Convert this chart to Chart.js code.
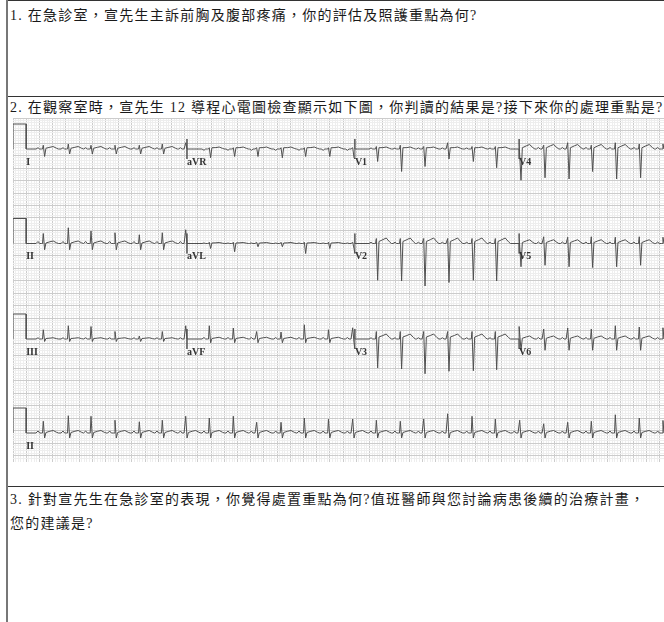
<!DOCTYPE html>
<html>
<head>
<meta charset="utf-8">
<script src="https://cdn.jsdelivr.net/npm/chart.js@4.4.1/dist/chart.umd.min.js"></script>
<style>
  html, body { margin: 0; padding: 0; background: #fff; overflow: hidden; }
  body { width: 664px; height: 622px; position: relative; color: #1a1a1a;
         font-family: "Liberation Serif", "Noto Sans CJK TC", serif; }
  .vline { position: absolute; left: 6px; top: 0; width: 2px; height: 622px; background: #777; }
  .hline { position: absolute; left: 6px; width: 700px; height: 1px; background: #333; }
  .q { position: absolute; left: 10px; font-size: 14px; letter-spacing: 1.25px; line-height: 24px; white-space: nowrap; }
  #ecgBox { position: absolute; left: 13px; top: 118px; width: 651px; height: 344px; }
</style>
</head>
<body>
<div class="hline" style="top:0"></div>
<div class="hline" style="top:96px"></div>
<div class="hline" style="top:486px"></div>
<div class="vline"></div>
<div class="q" style="top:4px">1. 在急診室，宣先生主訴前胸及腹部疼痛，你的評估及照護重點為何?</div>
<div class="q" style="top:96px">2. 在觀察室時，宣先生 12 導程心電圖檢查顯示如下圖，你判讀的結果是?接下來你的處理重點是?</div>
<div class="q" style="top:488px">3. 針對宣先生在急診室的表現，你覺得處置重點為何?值班醫師與您討論病患後續的治療計畫，<br>您的建議是?</div>
<div id="ecgBox"><canvas id="ecg" width="651" height="344"></canvas></div>

<script>
// ---- data (time in s, amplitude in mV) ----
const beatTimes = [0.459, 0.838, 1.182, 1.545, 1.914, 2.262, 2.617,
                   2.974, 3.338, 3.692, 4.061, 4.414, 4.780, 5.147,
                   5.505, 5.868, 6.223, 6.586, 6.955, 7.308,
                   7.677, 8.041, 8.405, 8.762, 9.126, 9.489, 9.848];
const sectionStarts = [0.2, 2.636, 5.18, 7.667];
const sectionBeats  = [[0, 7], [7, 14], [14, 20], [20, 27]];
const calTimes  = [0, 0, 0.2, 0.2];
const calLevels = [0, 1, 1, 0];
const markerLevels = [0, 0.4, -0.4, 0];

const rowLeads = [['I', 'aVR', 'V1', 'V4'],
                  ['II', 'aVL', 'V2', 'V5'],
                  ['III', 'aVF', 'V3', 'V6']];
const rhythmLead = 'II';

// R and S amplitude per beat
const I_R   = [0.15, 0.2, 0.15, 0.15, 0.15, 0.2, 0.25];
const I_S   = [-0.3, -0.2, -0.2, -0.2, -0.2, -0.2, -0.2];
const aVR_R = [0.05, 0.05, 0.05, 0.05, 0.05, 0.05, 0.05];
const aVR_S = [-0.35, -0.3, -0.3, -0.35, -0.3, -0.3, -0.35];
const V1_R  = [0.1, 0.15, 0.1, 0.25, 0.1, 0.1];
const V1_S  = [-0.5, -0.9, -0.7, -0.4, -0.5, -0.75];
const V4_R  = [0.2, 0.15, 0.25, 0.15, 0.25, 0.2, 0.2];
const V4_S  = [-1.25, -1.15, -1.2, -0.9, -1.2, -1.15, -1.1];
const II_R  = [0.4, 0.63, 0.5, 0.43, 0.35, 0.43, 0.55];
const II_S  = [-0.25, -0.25, -0.25, -0.25, -0.25, -0.25, -0.25];
const aVL_R = [0.05, 0.05, 0.05, 0.05, 0.05, 0.05, 0.05];
const aVL_S = [-0.2, -0.33, -0.13, -0.13, -0.4, -0.2, -0.2];
const V2_R  = [0.2, 0.2, 0.2, 0.2, 0.2, 0.2];
const V2_S  = [-1.47, -1.5, -1.7, -1.56, -1.47, -1.5];
const V5_R  = [0.25, 0.27, 0.25, 0.27, 0.25, 0.27, 0.25];
const V5_S  = [-0.93, -0.87, -0.93, -0.96, -0.93, -0.87, -0.9];
const III_R = [0.37, 0.53, 0.5, 0.3, 0.12, 0.3, 0.53];
const III_S = [-0.1, -0.1, -0.1, -0.1, -0.1, -0.1, -0.1];
const aVF_R = [0.53, 0.44, 0.3, 0.28, 0.57, 0.37, 0.45];
const aVF_S = [-0.15, -0.15, -0.15, -0.15, -0.15, -0.15, -0.15];
const V3_R  = [0.3, 0.3, 0.3, 0.3, 0.3, 0.3];
const V3_S  = [-1.16, -1.2, -1.39, -1.29, -1.27, -1.23];
const V6_R  = [0.5, 0.4, 0.44, 0.4, 0.53, 0.48, 0.45];
const V6_S  = [-0.45, -0.45, -0.45, -0.45, -0.45, -0.45, -0.45];
const IIr_R = [0.47, 0.69, 0.67, 0.51, 0.45, 0.51, 0.67, 0.6, 0.67, 0.43, 0.43, 0.6, 0.55,
               0.56, 0.51, 0.47, 0.56, 0.77, 0.67, 0.56, 0.51, 0.37, 0.43, 0.47, 0.73, 0.6, 0.5];
const IIr_S = [-0.2, -0.2, -0.2, -0.2, -0.2, -0.2, -0.2, -0.2, -0.2, -0.2, -0.2, -0.2, -0.2,
               -0.2, -0.2, -0.2, -0.2, -0.2, -0.2, -0.2, -0.2, -0.2, -0.2, -0.2, -0.2, -0.2, -0.2];

// P, Q, ST (J) and T level per lead
const shapes = {
  I: [0.05, 0, 0.03, 0.1],   aVR: [-0.05, 0, 0.05, 0.08], V1: [0.04, 0, 0.05, 0.08], V4: [0.06, 0, 0.05, 0.18],
  II: [0.08, 0, 0.02, 0.1],  aVL: [0.02, 0, 0.02, 0.04],  V2: [0.05, 0, 0.08, 0.22], V5: [0.06, 0, 0.04, 0.15],
  III: [0.05, 0, 0.02, 0.05], aVF: [0.06, 0, 0.02, 0.07], V3: [0.05, 0, 0.08, 0.2],  V6: [0.06, 0, 0.03, 0.12],
};
const amps = {
  I: [I_R, I_S], aVR: [aVR_R, aVR_S], V1: [V1_R, V1_S], V4: [V4_R, V4_S],
  II: [II_R, II_S], aVL: [aVL_R, aVL_S], V2: [V2_R, V2_S], V5: [V5_R, V5_S],
  III: [III_R, III_S], aVF: [aVF_R, aVF_S], V3: [V3_R, V3_S], V6: [V6_R, V6_S],
};

// ---- paper layout ----
const X_MAX = 651 / 66;          // 66 px per second
const Y_MIN = -344 / 25;         // 25 px per mV
const rowBase = [-1.24, -5.02, -8.84, -12.6];

function beatPoints(times, R, S, shape, t0, t1) {
  const [P, Q, J, T] = shape;
  const pts = [{ x: t0, y: 0 }];
  times.forEach((tb, i) => {
    const beat = [[-0.11, 0], [-0.08, P], [-0.055, 0], [-0.025, 0], [-0.012, Q],
                  [0, R[i]], [0.02, S[i]], [0.04, J], [0.1, T * 0.7], [0.15, T],
                  [0.2, T * 0.3], [0.23, 0]];
    beat.forEach(([dt, v]) => {
      const t = tb + dt;
      if (t > t0 && t < t1) pts.push({ x: t, y: v });
    });
  });
  pts.push({ x: t1, y: 0 });
  return pts;
}

function calPoints() {
  return calTimes.map((t, i) => ({ x: t, y: calLevels[i] }));
}

function rowPoints(r) {
  let pts = calPoints();
  rowLeads[r].forEach((lead, s) => {
    const t0 = sectionStarts[s];
    const t1 = s < 3 ? sectionStarts[s + 1] : X_MAX;
    if (s > 0) markerLevels.forEach(v => pts.push({ x: t0, y: v }));
    const [a, b] = sectionBeats[s];
    const [R, S] = amps[lead];
    pts = pts.concat(beatPoints(beatTimes.slice(a, b), R, S, shapes[lead], t0, t1));
  });
  return pts.map(p => ({ x: p.x, y: p.y + rowBase[r] }));
}

function rhythmPoints() {
  const pts = calPoints().concat(beatPoints(beatTimes, IIr_R, IIr_S, shapes.II, sectionStarts[0], X_MAX));
  return pts.map(p => ({ x: p.x, y: p.y + rowBase[3] }));
}

const traceStyle = { borderColor: '#505050', borderWidth: 1, pointRadius: 0, tension: 0, fill: false };
const datasets = [0, 1, 2].map(r => Object.assign({ data: rowPoints(r) }, traceStyle));
datasets.push(Object.assign({ data: rhythmPoints() }, traceStyle));

const isMajor = (v, step) => Math.abs(Math.round(v / step)) % 5 === 0;

const leadLabels = {
  id: 'leadLabels',
  afterDatasetsDraw(chart) {
    const { ctx, scales: { x, y } } = chart;
    ctx.save();
    ctx.font = 'bold 10px "Liberation Serif"';
    ctx.fillStyle = '#333';
    ctx.textBaseline = 'middle';
    rowLeads.concat([[rhythmLead]]).forEach((leads, r) => {
      leads.forEach((name, s) => {
        const px = x.getPixelForValue(sectionStarts[s]);
        const py = y.getPixelForValue(rowBase[r]) + 13;
        ctx.fillText(name, px, py);
      });
    });
    ctx.restore();
  },
};

new Chart(document.getElementById('ecg').getContext('2d'), {
  type: 'line',
  data: { datasets },
  options: {
    responsive: false,
    animation: false,
    events: [],
    layout: { padding: 0 },
    plugins: { legend: { display: false }, tooltip: { enabled: false } },
    scales: {
      x: {
        type: 'linear', min: 0, max: X_MAX,
        ticks: { display: false, stepSize: 0.04 },
        grid: { drawTicks: false, lineWidth: 1,
                color: c => isMajor(c.tick.value, 0.04) ? '#cccccc' : '#eeeeee' },
        border: { display: false },
      },
      y: {
        type: 'linear', min: Y_MIN, max: 0,
        ticks: { display: false, stepSize: 0.1 },
        grid: { drawTicks: false, lineWidth: 1,
                color: c => isMajor(c.tick.value, 0.1) ? '#cccccc' : '#eeeeee' },
        border: { display: false },
      },
    },
  },
  plugins: [leadLabels],
});
</script>
</body>
</html>
